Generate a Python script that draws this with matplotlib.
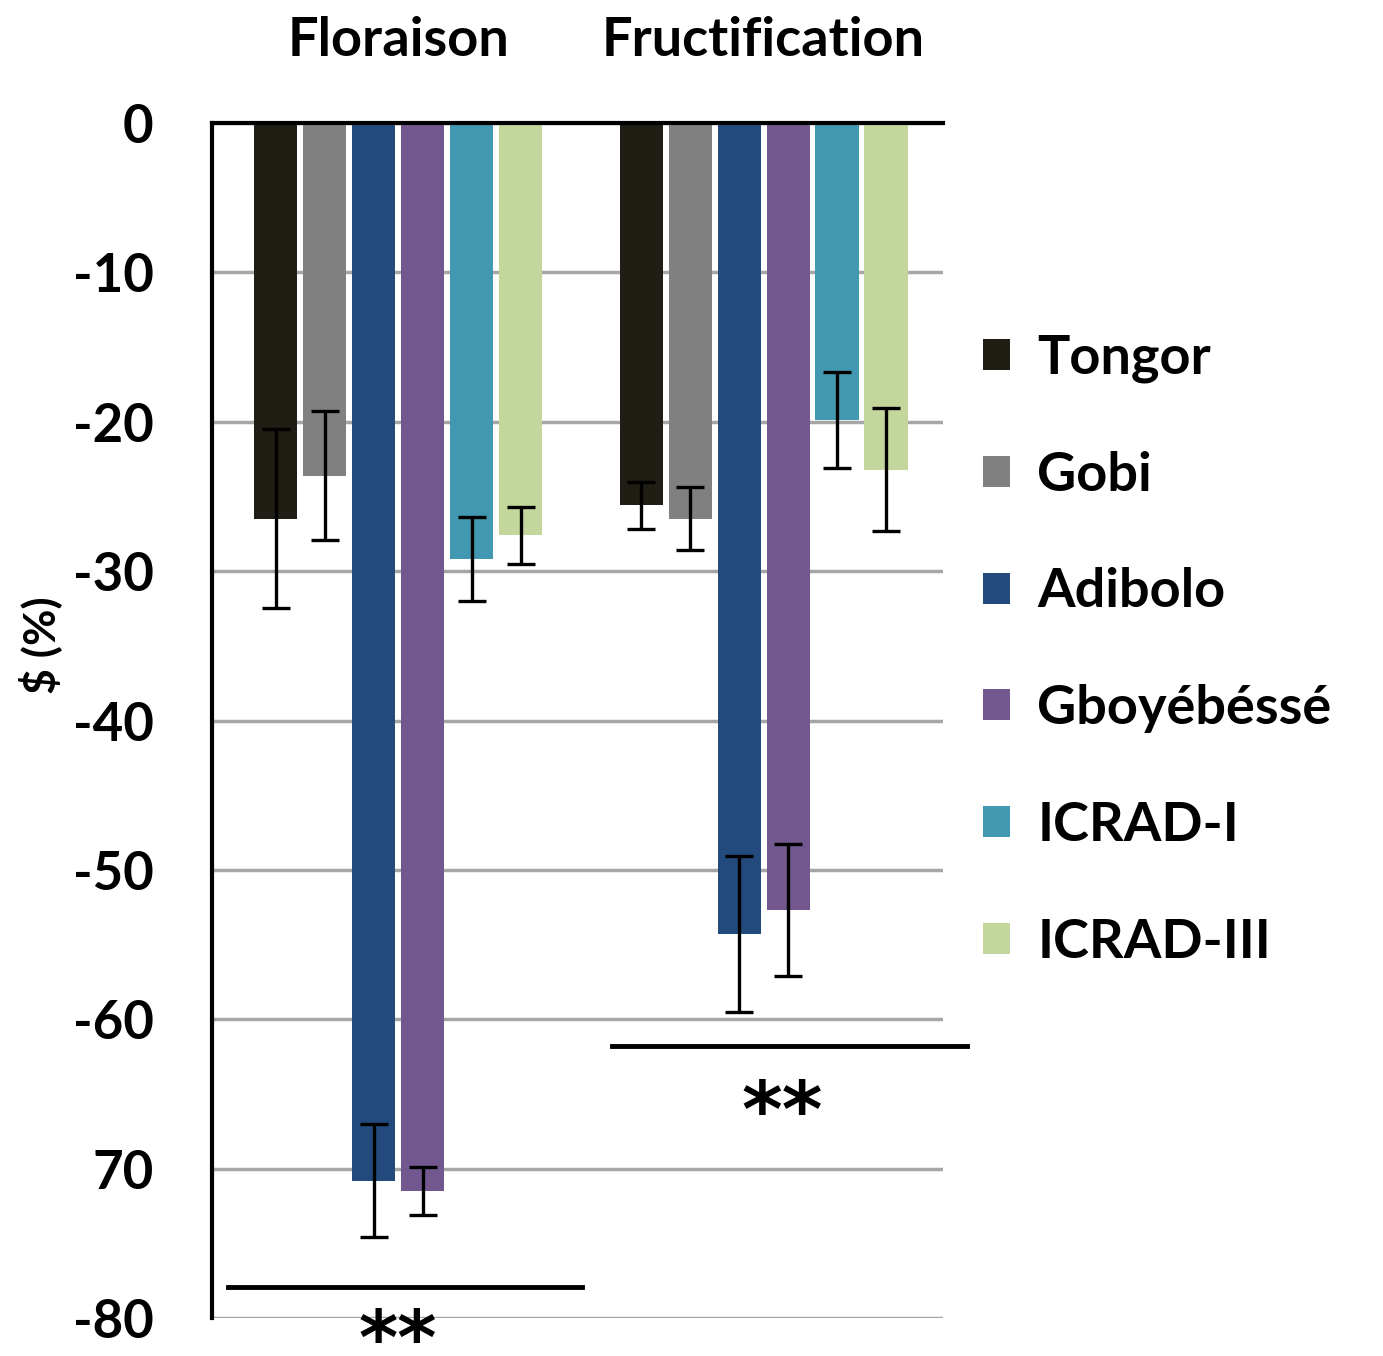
import matplotlib.pyplot as plt
import numpy as np

plt.rcParams['font.family'] = ['Lato', 'DejaVu Sans']
plt.rcParams['font.weight'] = 'bold'

# données
stades = ['Floraison', 'Fructification']
varietes = ['Tongor', 'Gobi', 'Adibolo', 'Gboyébéssé', 'ICRAD-I', 'ICRAD-III']
couleurs = ['#1f1d14', '#808080', '#234a7c', '#72588f', '#4298b0', '#c3d69b']
floraison = [-26.5, -23.6, -70.8, -71.5, -29.2, -27.6]
floraison_err = [6.0, 4.3, 3.8, 1.6, 2.8, 1.9]
fructification = [-25.6, -26.5, -54.3, -52.7, -19.9, -23.2]
fructification_err = [1.6, 2.1, 5.2, 4.4, 3.2, 4.1]
yticks = [0, -10, -20, -30, -40, -50, -60, -70, -80]
ytick_labels = ['0', '-10', '-20', '-30', '-40', '-50', '-60', '70', '-80']

fig = plt.figure(figsize=(13.83, 13.56), dpi=100)
ax = fig.add_axes([0.1533, 0.0280, 0.5286, 0.8813])

x = np.arange(len(stades))
pas = 0.134
larg = 0.118
for i, v in enumerate(varietes):
    pos = x + (i - 2.5) * pas
    vals = [floraison[i], fructification[i]]
    errs = [floraison_err[i], fructification_err[i]]
    ax.bar(pos, vals, width=larg, color=couleurs[i], label=v, zorder=2)
    ax.errorbar(pos, vals, yerr=errs, fmt='none', ecolor='black',
                elinewidth=2.4, capsize=10, capthick=2.4, zorder=3)

ax.set_ylim(-80, 0)
ax.set_xlim(-0.509, 1.491)
ax.set_yticks(yticks)
ax.set_yticklabels(ytick_labels, fontsize=38, fontweight='bold')
ax.tick_params(axis='y', length=0, pad=42)
ax.tick_params(axis='x', length=0, labelbottom=False)
ax.yaxis.grid(True, color='#a6a6a6', linewidth=2.5, zorder=0)
ax.set_axisbelow(True)
for s in ['right', 'bottom']:
    ax.spines[s].set_visible(False)
ax.spines['left'].set_linewidth(3)
ax.spines['top'].set_linewidth(3)

ax.set_ylabel('\\$ (%)', fontsize=32, fontweight='bold')
ax.yaxis.set_label_coords(-0.205, 0.563)

# titres des stades
for xi, s in zip(x, stades):
    ax.text(xi, 5.5, s, ha='center', va='center', fontsize=39, fontweight='bold')

# significativité
ax.plot([-0.465, 0.503], [-77.9, -77.9], color='black', lw=3.5, clip_on=False)
ax.text(0.0, -81.7, '**', ha='center', va='center', fontsize=54,
        fontweight='bold', family='DejaVu Sans', clip_on=False)
ax.plot([0.585, 1.556], [-61.8, -61.8], color='black', lw=3.5, clip_on=False)
ax.text(1.05, -66.4, '**', ha='center', va='center', fontsize=56,
        fontweight='bold', family='DejaVu Sans')

fig.legend(loc='upper left', bbox_to_anchor=(0.6755, 0.79), frameon=False,
           prop={'size': 39, 'weight': 'bold'}, handlelength=0.5, handleheight=0.5,
           handletextpad=0.5, labelspacing=1.25)

fig.savefig('out.png', dpi=100)
